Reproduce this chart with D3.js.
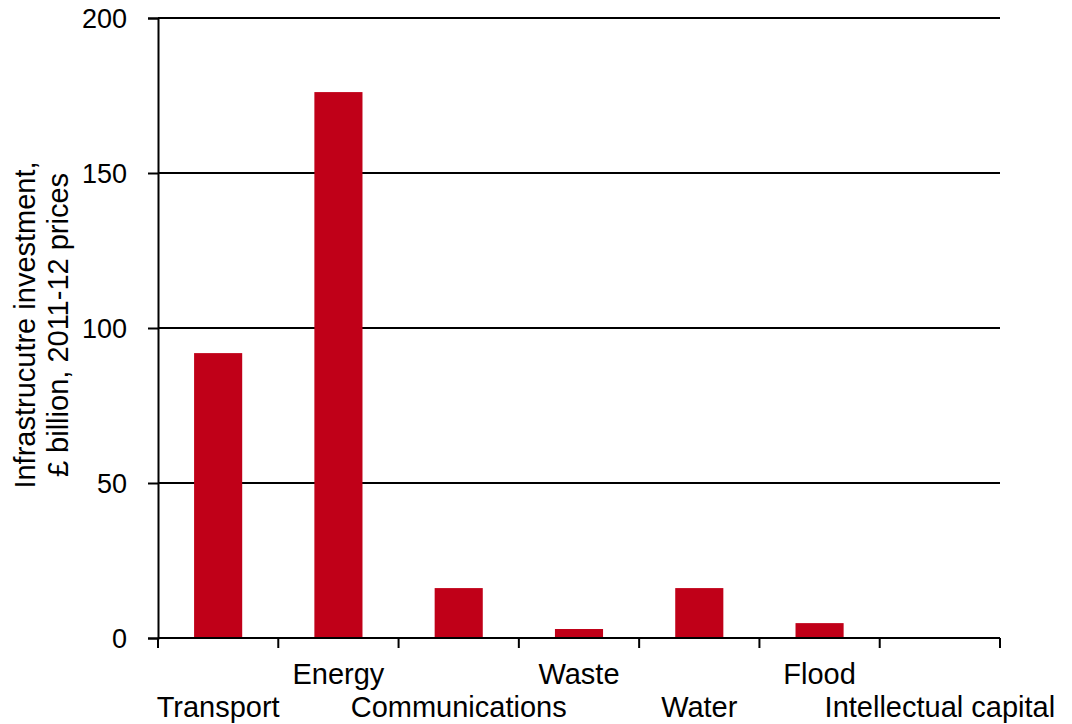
<!DOCTYPE html>
<html>
<head>
<meta charset="utf-8">
<script src="https://cdn.jsdelivr.net/npm/d3@7"></script>
<style>
  body { margin: 0; background: #fff; }
  text { font-family: "Liberation Sans", Arial, sans-serif; fill: #000; }
</style>
</head>
<body>
<div id="chart"></div>
<script>
// values
var categories = ["Transport", "Energy", "Communications", "Waste", "Water", "Flood", "Intellectual capital"];
var values = [91.9, 176.1, 16.1, 2.9, 16.1, 4.8, 0];
var yTicks = [0, 50, 100, 150, 200];
var yLabelLines = ["Infrastrucutre investment,", "£ billion, 2011-12 prices"];

var width = 1072, height = 724;
var margin = { top: 18, right: 72, bottom: 86, left: 158 };

var svg = d3.select('#chart')
    .append('svg')
    .attr('width', width)
    .attr('height', height);

var data = categories.map(function(c, i) { return { name: c, value: values[i] } });

var scaleX = d3.scaleBand()
    .domain(categories)
    .range([margin.left, width - margin.right])
    .paddingInner(0.6)
    .paddingOuter(0.3);

// cells without padding, for the tick marks between categories
var scaleCell = d3.scaleBand()
    .domain(categories)
    .range([margin.left, width - margin.right]);

var scaleY = d3.scaleLinear()
    .domain([0, 200])
    .range([height - margin.bottom, margin.top]);

// y axis
var yAxisG = svg.append('g')
    .attr('transform', 'translate(' + margin.left + ',0)')
    .call(d3.axisLeft(scaleY)
        .tickValues(yTicks)
        .tickSize(10)
        .tickPadding(21)
        .tickFormat(d3.format('d')));
yAxisG.select('.domain').attr('stroke', '#000').attr('stroke-width', 2);
yAxisG.selectAll('.tick line').attr('stroke', '#000').attr('stroke-width', 2);
yAxisG.selectAll('.tick text')
    .style('font-size', '27px')
    .attr('dy', '0.35em');

// gridlines
svg.append('g')
    .selectAll('line')
    .data(yTicks.filter(function(d) { return d > 0 }))
    .enter()
    .append('line')
    .attr('x1', margin.left)
    .attr('x2', width - margin.right)
    .attr('y1', function(d) { return scaleY(d) })
    .attr('y2', function(d) { return scaleY(d) })
    .attr('stroke', '#000')
    .attr('stroke-width', 2);

// bars
svg.append('g')
    .selectAll('rect')
    .data(data)
    .enter()
    .append('rect')
    .attr('x', function(d) { return scaleX(d.name) })
    .attr('width', scaleX.bandwidth())
    .attr('y', function(d) { return scaleY(d.value) })
    .attr('height', function(d) { return scaleY(0) - scaleY(d.value) })
    .style('fill', '#c00018');

// x axis line and ticks at cell edges
var y0 = scaleY(0);
var edges = categories.map(function(c) { return scaleCell(c) }).concat([width - margin.right]);
svg.append('line')
    .attr('x1', margin.left).attr('x2', width - margin.right)
    .attr('y1', y0).attr('y2', y0)
    .attr('stroke', '#000').attr('stroke-width', 2);
svg.append('g')
    .selectAll('line')
    .data(edges)
    .enter()
    .append('line')
    .attr('x1', function(d) { return d }).attr('x2', function(d) { return d })
    .attr('y1', y0).attr('y2', y0 + 10)
    .attr('stroke', '#000').attr('stroke-width', 2);

// category labels, staggered on two rows
svg.append('g')
    .selectAll('text')
    .data(categories)
    .enter()
    .append('text')
    .attr('x', function(d) { return scaleCell(d) + scaleCell.bandwidth() / 2 })
    .attr('y', function(d, i) { return i % 2 === 0 ? 717 : 684 })
    .attr('text-anchor', 'middle')
    .style('font-size', '29px')
    .text(function(d) { return d });

// y axis title
var yMid = (scaleY(0) + scaleY(200)) / 2 - 3;
svg.append('text')
    .attr('transform', 'translate(35,' + yMid + ') rotate(-90)')
    .attr('text-anchor', 'middle')
    .style('font-size', '29px')
    .selectAll('tspan')
    .data(yLabelLines)
    .enter()
    .append('tspan')
    .attr('x', 0)
    .attr('dy', function(d, i) { return i === 0 ? 0 : 33 })
    .text(function(d) { return d });
</script>
</body>
</html>
